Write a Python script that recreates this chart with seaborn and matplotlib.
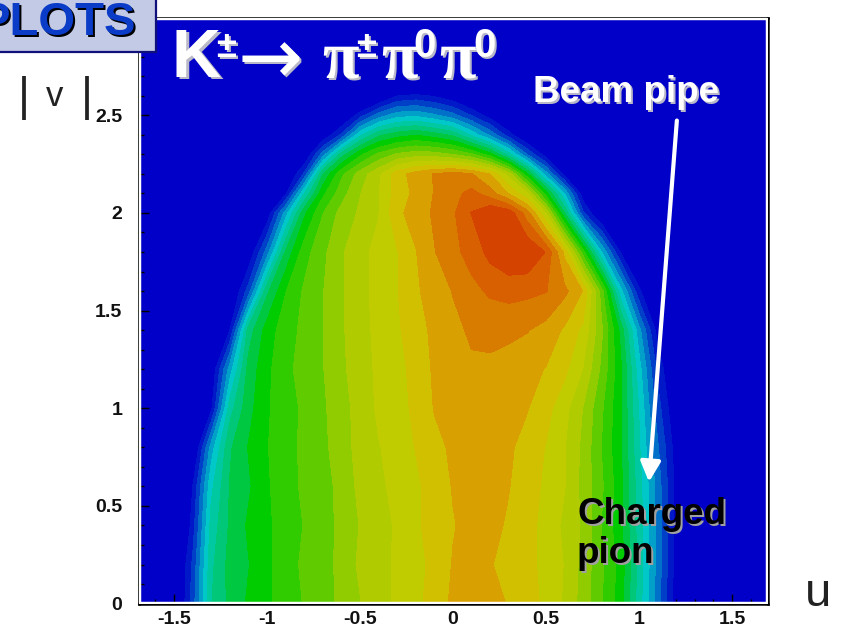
import numpy as np
import matplotlib
matplotlib.use('Agg')
import matplotlib.pyplot as plt
import seaborn as sns
from matplotlib.colors import ListedColormap
from matplotlib.patches import Rectangle
from matplotlib.ticker import MultipleLocator

# Dalitz density, in units of colour level
# values below zero are outside the populated region, they only keep the edge smooth
u_values = [-1.5, -1.4, -1.3, -1.2, -1.1, -1.0, -0.9, -0.8, -0.7, -0.6, -0.5, -0.4, -0.3, -0.2, -0.1,
            0.0, 0.1, 0.2, 0.3, 0.4, 0.5, 0.6, 0.7, 0.8, 0.9, 1.0, 1.1, 1.2, 1.3]
v_values = [0.0, 0.2, 0.4, 0.6, 0.8, 1.0, 1.2, 1.4, 1.6, 1.8, 2.0, 2.1, 2.2, 2.3, 2.4, 2.5, 2.6, 2.7]

row_v00 = [-2, 1.5, 6, 7.3, 8.2, 8.8, 9.6, 10.1, 10.6, 11.3, 12, 12.7, 13.2, 13.7, 14.6, 15.2, 15.4, 15.3, 15, 14.5, 13.8, 12.9, 11.6, 10.1, 8.5, 5.5, 2.5, -0.6, -3]
row_v02 = [-2, 1.2, 5.8, 7.4, 8.0, 8.8, 9.7, 10.2, 10.4, 11.5, 12.2, 12.5, 13.3, 13.5, 14.5, 15.1, 15.4, 15.1, 14.8, 14.4, 13.7, 13, 11.7, 10.2, 8.7, 5.7, 2.7, -0.4, -3]
row_v04 = [-3, 0.5, 5.4, 7.2, 8.2, 8.9, 9.4, 10.1, 10.8, 11.2, 12.1, 12.9, 13.1, 13.9, 14.4, 15, 15.3, 15.4, 14.9, 14.3, 13.8, 12.8, 11.9, 10, 8.3, 5.6, 2.7, -0.3, -3]
row_v06 = [-3, 0, 4.8, 7.1, 7.9, 8.9, 9.7, 10.2, 10.6, 11.4, 12.3, 12.8, 13.4, 13.8, 14.6, 15.1, 15.5, 15.3, 15.1, 14.4, 13.9, 13.1, 11.7, 10.2, 8.4, 5.5, 2.6, -0.3, -3]
row_v08 = [-4, -1.6, 3.5, 6.9, 8.1, 9, 9.6, 10.3, 10.8, 11.6, 12.4, 13, 13.4, 14.1, 14.8, 15.2, 15.6, 15.5, 15.2, 14.7, 14, 13.1, 11.8, 10, 8.2, 5.2, 2.2, -0.5, -3]
row_v10 = [-4, -2.2, -0.2, 5.6, 7.7, 8.9, 9.7, 10.2, 10.9, 11.6, 12.5, 13.2, 13.6, 14.3, 15.1, 15.5, 15.7, 15.5, 15.4, 15.1, 14.4, 13.4, 12, 10.2, 8.2, 5, 1.5, -1, -3]
row_v12 = [-5, -3, -1, 3.5, 7.4, 8.8, 9.8, 10.4, 11, 11.8, 12.7, 13.2, 13.7, 14.4, 15.2, 15.6, 15.9, 15.8, 15.6, 15.4, 15, 14.3, 13, 10.8, 8.3, 4.5, 0.8, -1.6, -4]
row_v14 = [-5, -3.5, -2, 0, 6.5, 8.5, 9.6, 10.3, 11, 11.9, 12.7, 13.3, 13.9, 14.6, 15.3, 15.8, 16.2, 16.4, 16.3, 16.1, 15.7, 14.9, 13.8, 11.2, 7.8, 3.4, -0.4, -2.5, -4]
row_v16 = [-6, -4, -3, -1.5, 1.5, 6.8, 9, 10.2, 11, 11.9, 12.8, 13.3, 14, 14.9, 15.5, 16.1, 16.8, 17.2, 17.4, 17.3, 17.1, 16.3, 15, 10.5, 4.5, 0.3, -2, -4, -6]
row_v18 = [-6, -5, -4, -2.5, -1, 2.5, 7.2, 9.6, 10.8, 11.9, 12.8, 13.3, 14, 15, 16, 16.8, 17.4, 18.4, 19, 19, 18, 14.8, 9.5, 4, 0, -2, -3.5, -5, -6]
row_v20 = [-8, -6, -5, -4, -2.5, -0.8, 3.5, 7.8, 10, 11.4, 12.2, 13, 14.8, 15.5, 16.2, 16.9, 18.1, 19, 18.7, 16.5, 13, 7, 1.2, -1.5, -3, -4, -5, -6, -8]
row_v21 = [-8, -7, -6, -5, -3.5, -1.8, -0.2, 5, 8.8, 10.6, 12, 13, 14.5, 15.3, 16.1, 16.7, 17.4, 16.5, 15, 13.2, 8.5, 4, -0.7, -2.5, -4, -5, -6, -7, -8]
row_v22 = [-8, -7, -6, -6, -5, -3.5, -1.5, 1.2, 7, 9.8, 11.5, 12.8, 14.6, 15.5, 16.1, 16.5, 16.1, 15, 12.6, 8.2, 3.5, -0.4, -2.5, -4, -5, -6, -7, -8, -8]
row_v23 = [-8, -8, -7, -7, -6, -5, -3, -1.2, 2.5, 6.5, 8.8, 10.3, 11.2, 11.6, 11.5, 11, 10.2, 8.5, 5.5, 2, -0.5, -2.5, -4, -5, -6, -7, -8, -8, -8]
row_v24 = [-8, -8, -8, -7, -7, -6, -4.5, -3, -1, 1.2, 4.8, 6.8, 7.6, 8, 7.5, 6.8, 4.8, 2.8, 0.5, -1.5, -3, -4.5, -6, -7, -8, -8, -8, -8, -8]
row_v25 = [-8, -8, -8, -8, -8, -7, -6, -4.5, -3, -1.5, 0.6, 2.5, 3.6, 3.8, 3.2, 2.4, 1, -0.5, -2, -3.5, -5, -6, -7, -8, -8, -8, -8, -8, -8]
row_v26 = [-8, -8, -8, -8, -8, -8, -7, -6, -5, -4, -3, -1.5, 0, 0.3, -0.1, -0.8, -2, -3, -4, -5, -6, -7, -8, -8, -8, -8, -8, -8, -8]
row_v27 = [-8, -8, -8, -8, -8, -8, -8, -7, -6, -6, -5, -4, -4, -4, -4, -4, -5, -5, -6, -7, -8, -8, -8, -8, -8, -8, -8, -8, -8]

density_rows = [row_v00, row_v02, row_v04, row_v06, row_v08, row_v10, row_v12, row_v14, row_v16, row_v18,
                row_v20, row_v21, row_v22, row_v23, row_v24, row_v25, row_v26, row_v27]

x_ticks = [-1.5, -1, -0.5, 0, 0.5, 1, 1.5]
x_tick_labels = ['-1.5', '-1', '-0.5', '0', '0.5', '1', '1.5']
y_ticks = [0, 0.5, 1, 1.5, 2, 2.5]
y_tick_labels = ['0', '0.5', '1', '1.5', '2', '2.5']

# root style rainbow, one colour per level
BLUE = '#0000c8'
level_colors = ['#0018c8', '#0040c8', '#0070c8', '#00a0c8', '#00c8c8', '#00c8a0', '#00c878', '#00c840',
                '#00cc00', '#30cc00', '#60cc00', '#90cc00', '#b0cc00', '#c0cc00', '#d0c000', '#d8a000',
                '#d87c00', '#d86000', '#d44400', '#d03c00']
levels = np.arange(0.05, 21.05, 1)

sns.set_theme(style='ticks')
plt.rcParams['font.family'] = ['Liberation Sans', 'DejaVu Sans']

W, H = 846, 627
fig = plt.figure(figsize=(W / 100, H / 100), dpi=100)
fig.patch.set_facecolor('white')
ax = fig.add_axes([139 / W, 1 - 603.6 / H, 629 / W, 586 / H])
ax.set_facecolor(BLUE)

ax.contourf(u_values, v_values, np.array(density_rows), levels=levels,
            cmap=ListedColormap(sns.color_palette(level_colors)))

ax.set_xlim(-1.688, 1.694)
ax.set_ylim(0, 3.0)
ax.set_xticks(x_ticks)
ax.set_xticklabels(x_tick_labels)
ax.set_yticks(y_ticks)
ax.set_yticklabels(y_tick_labels)
ax.xaxis.set_minor_locator(MultipleLocator(0.1))
ax.yaxis.set_minor_locator(MultipleLocator(0.1))
ax.tick_params(which='major', direction='in', length=7.5, width=1, color='black')
ax.tick_params(which='minor', direction='in', length=3.6, width=1, color='black')
ax.tick_params(axis='x', which='major', labelsize=14, pad=5.5, labelcolor='#111111')
ax.tick_params(axis='y', which='major', labelsize=14, pad=12, labelcolor='#111111')
for label in ax.get_xticklabels() + ax.get_yticklabels():
    label.set_fontweight('bold')
for side in ax.spines.values():
    side.set_color('black')
    side.set_linewidth(1.8)

# thin white gap between the frame and the filled area
ax.add_patch(Rectangle((0, 0), 1, 1, transform=ax.transAxes, fill=False, edgecolor='white',
                       linewidth=3.2, zorder=4))

# beam pipe arrow
arrow_tail = (1.204, 2.473)
arrow_tip = (1.054, 0.623)
ax.annotate('', xy=arrow_tip, xytext=arrow_tail,
            arrowprops=dict(arrowstyle='-|>,head_length=1.1,head_width=0.55', color='white', lw=3,
                            shrinkA=0, shrinkB=0, mutation_scale=11))


def px_text(x, y, s, color, shadow=None, offset=2, **kw):
    # x, y are pixels of the picture, text sits on its baseline
    if shadow is not None:
        fig.text((x + offset) / W, 1 - (y + offset) / H, s, color=shadow, va='baseline', **kw)
    fig.text(x / W, 1 - y / H, s, color=color, va='baseline', **kw)


# label box top left, clipped by the page edge
fig.add_artist(Rectangle((-2 / W, 1 - 52 / H), 158 / W, 54 / H, transform=fig.transFigure,
                         facecolor='#c3cae6', edgecolor='#10107a', linewidth=1.6, zorder=5))
px_text(-21, 35, 'PLOTS', '#0a3cc8', shadow='black', fontsize=34, fontweight='bold', zorder=6)

# axis names
px_text(18, 110, '|', '#222222', fontsize=33, zorder=6)
px_text(46, 106, 'v', '#222222', fontsize=25, zorder=6)
px_text(81, 110, '|', '#222222', fontsize=33, zorder=6)
px_text(805, 606, 'u', '#222222', fontsize=34, zorder=6)

# decay title, built from pieces
title_kw = dict(shadow='#b8b8c8', fontweight='bold', zorder=6)
serif_kw = dict(shadow='#b8b8c8', fontweight='bold', zorder=6, family=['Liberation Serif', 'DejaVu Serif'])
px_text(172, 77, 'K', 'white', fontsize=49, **title_kw)
px_text(216, 57, '±', 'white', fontsize=26, **title_kw)
px_text(238, 84, '\u2192', 'white', fontsize=56, shadow='#b8b8c8', zorder=6, family=['DejaVu Sans'])
px_text(322, 77, 'π', 'white', fontsize=48, **serif_kw)
px_text(356, 57, '±', 'white', fontsize=26, **title_kw)
px_text(381, 77, 'π', 'white', fontsize=48, **serif_kw)
px_text(413, 57, '0', 'white', fontsize=29, **title_kw)
px_text(439, 77, 'π', 'white', fontsize=48, **serif_kw)
px_text(473, 57, '0', 'white', fontsize=29, **title_kw)

px_text(533, 102, 'Beam pipe', 'white', shadow='#b8b8c8', fontsize=26.5, fontweight='bold', zorder=6)
px_text(577, 524, 'Charged', 'black', shadow='#a0a0a0', fontsize=26.5, fontweight='bold', zorder=6)
px_text(577, 563, 'pion', 'black', shadow='#a0a0a0', fontsize=26.5, fontweight='bold', zorder=6)

fig.savefig('out.png', dpi=100)
